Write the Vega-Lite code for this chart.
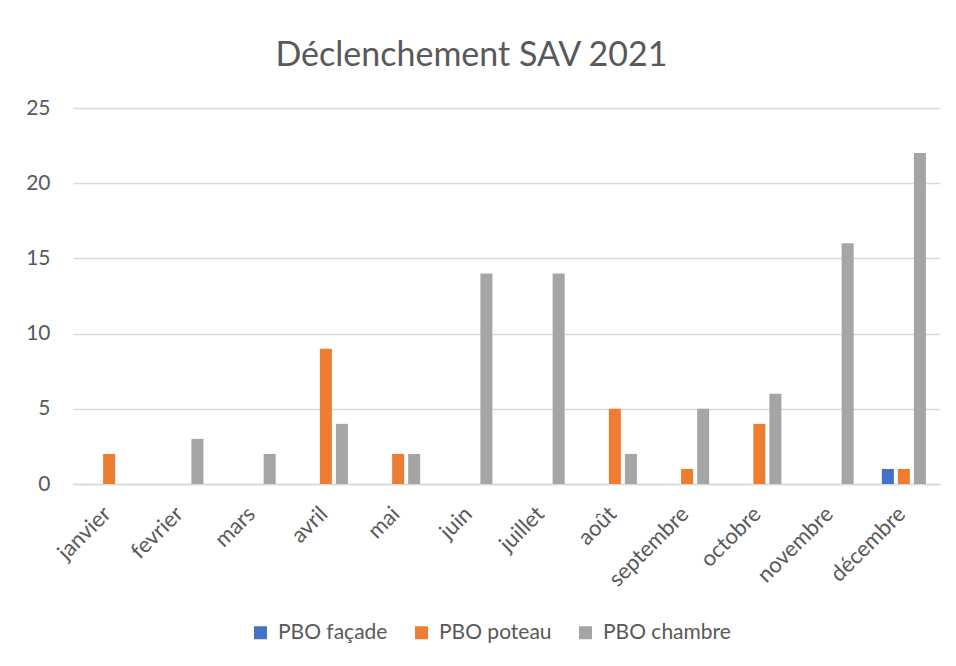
{
  "$schema": "https://vega.github.io/schema/vega-lite/v6.json",
  "autosize": "none",
  "width": 867,
  "height": 376,
  "padding": {"left": 73, "top": 108, "right": 16, "bottom": 182},
  "background": "white",
  "title": {
    "text": "Déclenchement SAV 2021",
    "font": "Lato",
    "fontSize": 34,
    "fontWeight": "normal",
    "color": "#595959",
    "anchor": "middle",
    "dx": -35,
    "baseline": "alphabetic",
    "offset": -3
  },
  "data": {
    "values": [
      {"mois": "janvier", "type": "PBO façade", "valeur": 0},
      {"mois": "janvier", "type": "PBO poteau", "valeur": 2},
      {"mois": "janvier", "type": "PBO chambre", "valeur": 0},
      {"mois": "fevrier", "type": "PBO façade", "valeur": 0},
      {"mois": "fevrier", "type": "PBO poteau", "valeur": 0},
      {"mois": "fevrier", "type": "PBO chambre", "valeur": 3},
      {"mois": "mars", "type": "PBO façade", "valeur": 0},
      {"mois": "mars", "type": "PBO poteau", "valeur": 0},
      {"mois": "mars", "type": "PBO chambre", "valeur": 2},
      {"mois": "avril", "type": "PBO façade", "valeur": 0},
      {"mois": "avril", "type": "PBO poteau", "valeur": 9},
      {"mois": "avril", "type": "PBO chambre", "valeur": 4},
      {"mois": "mai", "type": "PBO façade", "valeur": 0},
      {"mois": "mai", "type": "PBO poteau", "valeur": 2},
      {"mois": "mai", "type": "PBO chambre", "valeur": 2},
      {"mois": "juin", "type": "PBO façade", "valeur": 0},
      {"mois": "juin", "type": "PBO poteau", "valeur": 0},
      {"mois": "juin", "type": "PBO chambre", "valeur": 14},
      {"mois": "juillet", "type": "PBO façade", "valeur": 0},
      {"mois": "juillet", "type": "PBO poteau", "valeur": 0},
      {"mois": "juillet", "type": "PBO chambre", "valeur": 14},
      {"mois": "août", "type": "PBO façade", "valeur": 0},
      {"mois": "août", "type": "PBO poteau", "valeur": 5},
      {"mois": "août", "type": "PBO chambre", "valeur": 2},
      {"mois": "septembre", "type": "PBO façade", "valeur": 0},
      {"mois": "septembre", "type": "PBO poteau", "valeur": 1},
      {"mois": "septembre", "type": "PBO chambre", "valeur": 5},
      {"mois": "octobre", "type": "PBO façade", "valeur": 0},
      {"mois": "octobre", "type": "PBO poteau", "valeur": 4},
      {"mois": "octobre", "type": "PBO chambre", "valeur": 6},
      {"mois": "novembre", "type": "PBO façade", "valeur": 0},
      {"mois": "novembre", "type": "PBO poteau", "valeur": 0},
      {"mois": "novembre", "type": "PBO chambre", "valeur": 16},
      {"mois": "décembre", "type": "PBO façade", "valeur": 1},
      {"mois": "décembre", "type": "PBO poteau", "valeur": 1},
      {"mois": "décembre", "type": "PBO chambre", "valeur": 22}
    ]
  },
  "mark": {"type": "bar"},
  "encoding": {
    "x": {
      "field": "mois",
      "type": "nominal",
      "sort": ["janvier", "fevrier", "mars", "avril", "mai", "juin", "juillet", "août", "septembre", "octobre", "novembre", "décembre"],
      "scale": {"paddingInner": 0.39, "paddingOuter": 0.195},
      "axis": {
        "title": null,
        "labelAngle": -45,
        "labelAlign": "right",
        "labelBaseline": "middle",
        "labelFont": "Lato",
        "labelFontSize": 22,
        "labelColor": "#595959",
        "labelPadding": 26,
        "labelOffset": -2,
        "ticks": false,
        "domainColor": "#d9d9d9",
        "domainWidth": 1.5
      }
    },
    "xOffset": {
      "field": "type",
      "type": "nominal",
      "sort": ["PBO façade", "PBO poteau", "PBO chambre"],
      "scale": {"paddingInner": 0.25, "paddingOuter": 0}
    },
    "y": {
      "field": "valeur",
      "type": "quantitative",
      "scale": {"domain": [0, 25], "nice": false},
      "axis": {
        "title": null,
        "values": [0, 5, 10, 15, 20, 25],
        "labelFont": "Lato",
        "labelFontSize": 21,
        "labelColor": "#595959",
        "labelPadding": 23,
        "ticks": false,
        "domain": false,
        "gridColor": "#d9d9d9",
        "gridWidth": 1.3
      }
    },
    "color": {
      "field": "type",
      "type": "nominal",
      "sort": ["PBO façade", "PBO poteau", "PBO chambre"],
      "scale": {
        "domain": ["PBO façade", "PBO poteau", "PBO chambre"],
        "range": ["#4472C4", "#ED7D31", "#A5A5A5"]
      },
      "legend": {
        "title": null,
        "orient": "none",
        "direction": "horizontal",
        "legendX": 177,
        "legendY": 514,
        "symbolType": "square",
        "symbolSize": 169,
        "symbolStrokeWidth": 0,
        "labelFont": "Lato",
        "labelFontSize": 21,
        "labelColor": "#595959",
        "columnPadding": 23,
        "labelOffset": 7
      }
    }
  },
  "config": {
    "view": {"stroke": null}
  }
}
